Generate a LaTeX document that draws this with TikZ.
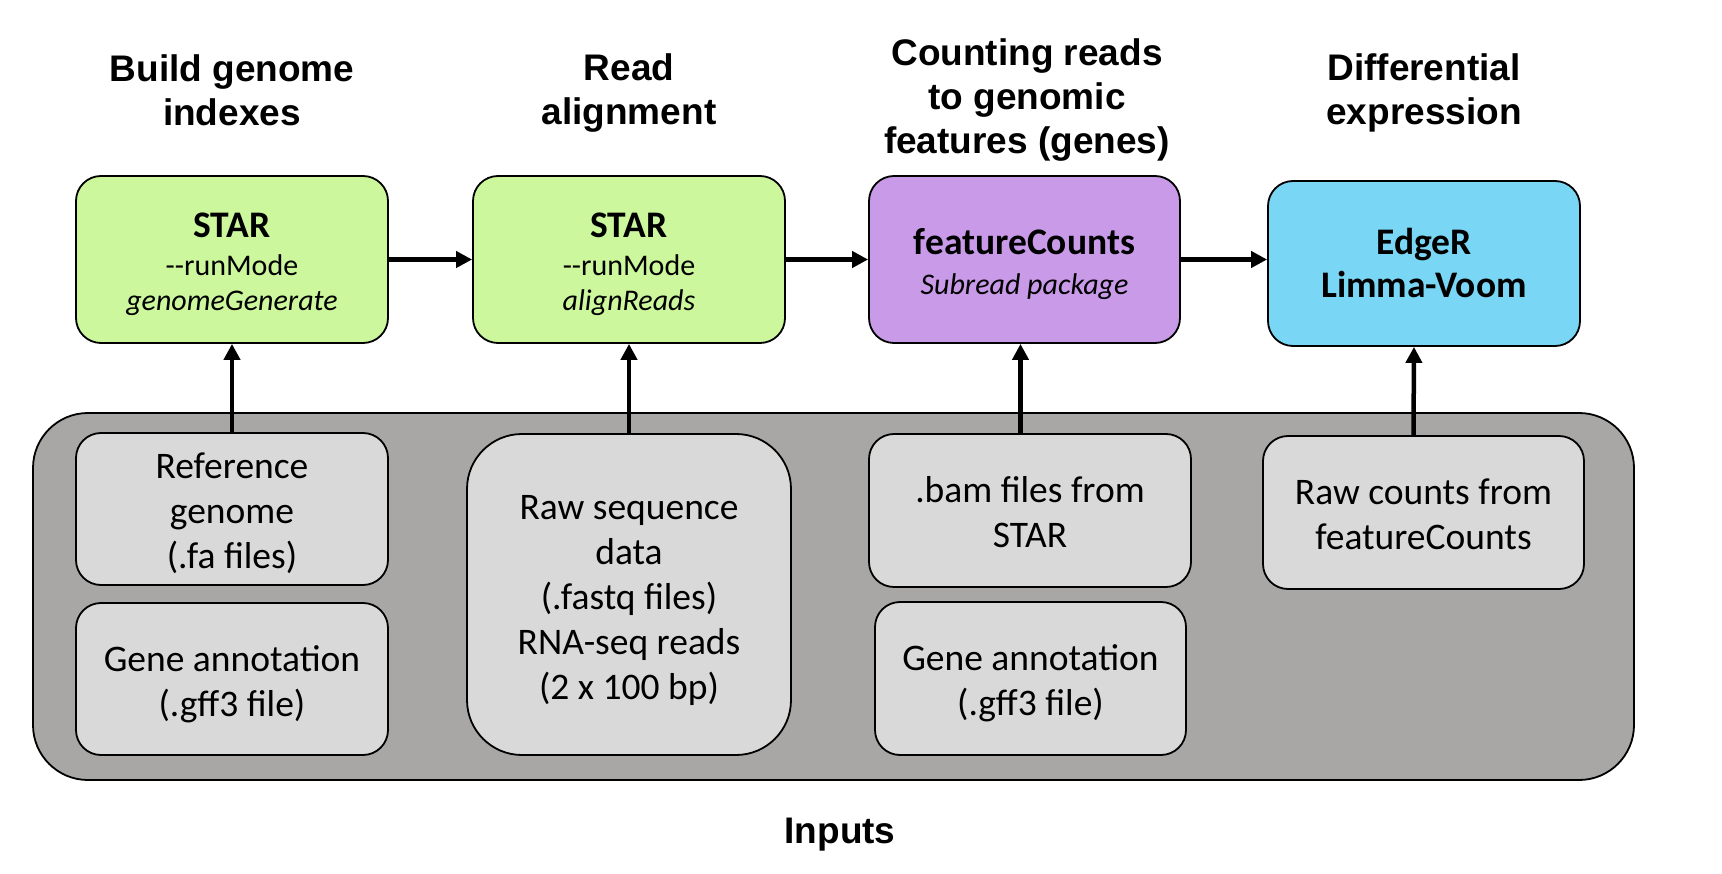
\documentclass[tikz,border=0pt]{standalone}
\usepackage{fontspec}
\setmainfont{Carlito}
\newfontfamily\headfont{Liberation Sans}
\usetikzlibrary{arrows.meta}
\definecolor{stargreen}{HTML}{CCF79C}
\definecolor{fcpurple}{HTML}{C89AE8}
\definecolor{edgeblue}{HTML}{79D6F5}
\definecolor{bggray}{HTML}{A8A7A6}
\definecolor{inputgray}{HTML}{D9D9D9}
\tikzset{
  procbox/.style={draw=black, line width=1.8pt, rounded corners=25pt, inner sep=0pt,
    font=\fontsize{30}{40}\selectfont},
  inbox/.style={draw=black, line width=1.8pt, fill=inputgray, rounded corners=25pt, inner sep=0pt,
    font=\fontsize{37.5}{45}\selectfont},
  heading/.style={align=center, font=\headfont\bfseries\fontsize{37}{44}\selectfont},
  flow/.style={line width=4.5pt, -{Triangle[length=16pt,width=16pt]}},
}
\newcommand{\bigtxt}{\fontsize{37.5}{43}\selectfont\bfseries}
\newcommand{\smalltxt}{\fontsize{30}{35}\selectfont\mdseries}
\newcommand{\lowtab}[2]{\raisebox{-#1}[\height][\depth]{\begin{tabular}{@{}c@{}}#2\end{tabular}}}
\newcommand{\intext}[1]{\lowtab{5.5pt}{#1}}
\begin{document}
\begin{tikzpicture}[x=1pt,y=-1pt]
\useasboundingbox (0,0) rectangle (1722,874);
% background
\node[draw=black, line width=1.8pt, fill=bggray, rounded corners=55pt, minimum width=1601pt, minimum height=367pt, inner sep=0pt] (inputs) at (833.5,596.5) {};
% headings
\node[heading] (h1) at (232,90) {Build genome\\indexes};
\node[heading] (h2) at (629,93) {Read\\alignment};
\node[heading] (h3) at (1027,100) {Counting reads\\to genomic\\features (genes)};
\node[heading] (h4) at (1424,93) {Differential\\expression};
\node[heading] (h5) at (840,835) {Inputs};
% process boxes
\node[procbox, fill=stargreen, minimum width=312pt, minimum height=167pt] (star1) at (232,259.5)
  {\lowtab{6.5pt}{\bigtxt STAR\\[-2pt] \smalltxt -\kern0pt-runMode\\[-5pt] \smalltxt\itshape genomeGenerate}};
\node[procbox, fill=stargreen, minimum width=312pt, minimum height=167pt] (star2) at (629,259.5)
  {\lowtab{6.5pt}{\bigtxt STAR\\[-2pt] \smalltxt -\kern0pt-runMode\\[-5pt] \smalltxt\itshape alignReads}};
\node[procbox, fill=fcpurple, minimum width=311pt, minimum height=167pt] (fc) at (1024.5,259.5)
  {\lowtab{7.5pt}{\bigtxt featureCounts\\ \smalltxt\itshape Subread package}};
\node[procbox, fill=edgeblue, minimum width=312pt, minimum height=165pt] (edger) at (1424,263.5)
  {\lowtab{5pt}{\bigtxt EdgeR\\[3pt] \bigtxt Limma-Voom}};
% input boxes
\node[inbox, minimum width=312pt, minimum height=152pt] (ref) at (232,509) {\intext{Reference\\genome\\(.fa files)}};
\node[inbox, minimum width=312pt, minimum height=152pt] (gff1) at (232,679) {\intext{Gene annotation\\(.gff3 file)}};
\node[inbox, rounded corners=55pt, minimum width=324pt, minimum height=321pt] (raw) at (629,594.5)
  {\intext{Raw sequence\\data\\(.fastq files)\\RNA-seq reads\\(2 x 100 bp)}};
\node[inbox, minimum width=322pt, minimum height=153pt] (bam) at (1030,510.5) {\intext{.bam files from\\STAR}};
\node[inbox, minimum width=311pt, minimum height=153pt] (gff2) at (1030.5,678.5) {\intext{Gene annotation\\(.gff3 file)}};
\node[inbox, minimum width=321pt, minimum height=153pt] (counts) at (1423.5,512.5) {\intext{Raw counts from\\featureCounts}};
% connectors
\draw[flow] (star1.east) -- (star1.east -| star2.west);
\draw[flow] (star2.east) -- (star2.east -| fc.west);
\draw[flow] (fc.east) -- (fc.east -| edger.west);
\draw[flow] (ref.north) -- (star1.south);
\draw[flow] (raw.north) -- (star2.south);
\draw[flow] ([xshift=-4pt]fc.south |- bam.north) -- ([xshift=-4pt]fc.south);
\draw[flow] ([xshift=-10pt]counts.north) -- ([xshift=-10pt]edger.south);
\end{tikzpicture}
\end{document}
